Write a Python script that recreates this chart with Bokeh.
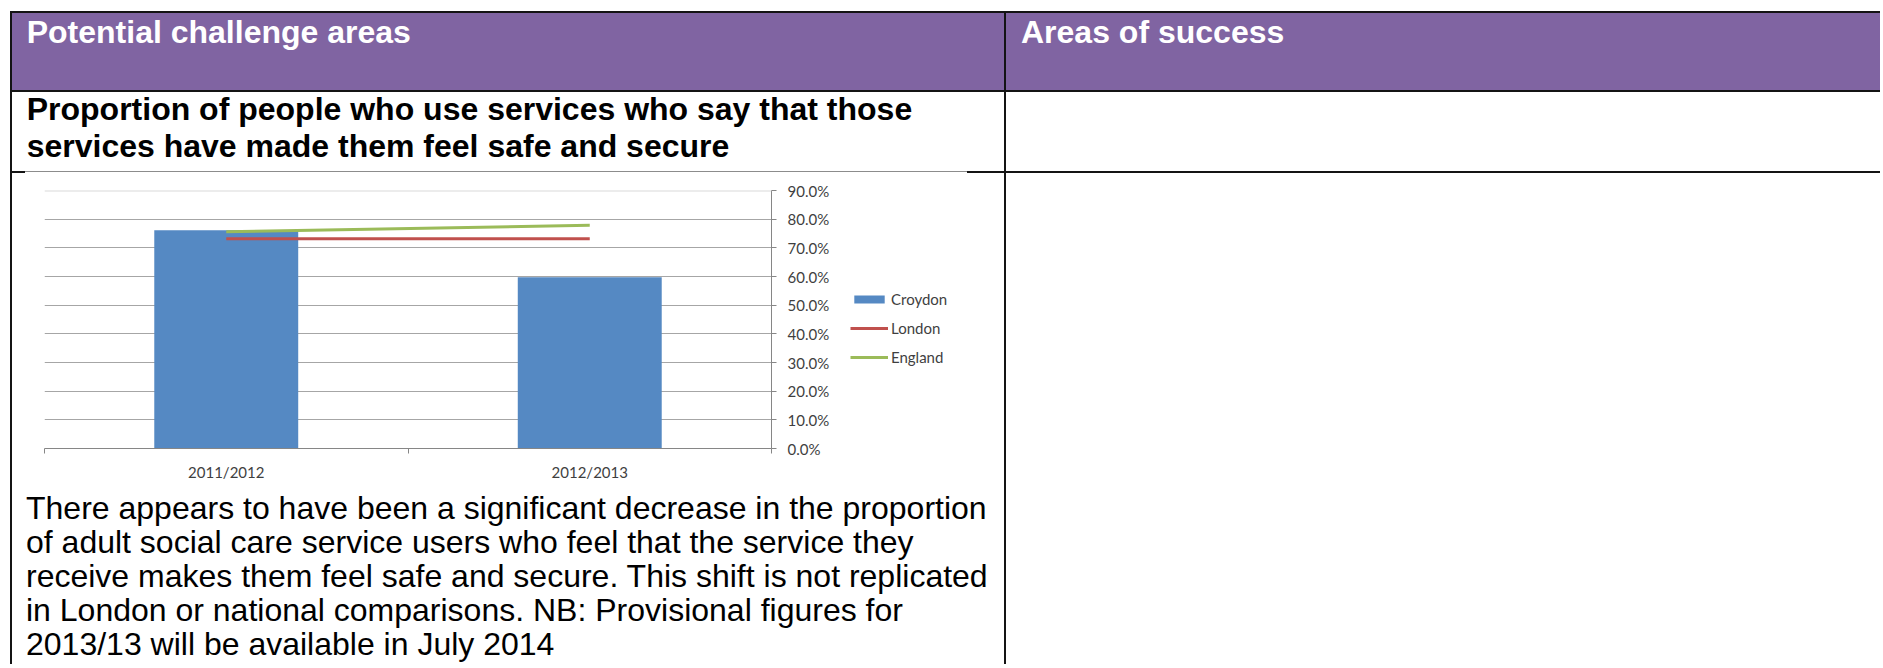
from bokeh.plotting import figure
from bokeh.layouts import row, column
from bokeh.models import (Range1d, FixedTicker, NumeralTickFormatter, Span,
                          Legend, LegendItem, Div)
from bokeh.embed import file_html
from bokeh.resources import INLINE

# ---------------- data ----------------
categories = ["2011/2012", "2012/2013"]
croydon = [0.761, 0.597]
london = [0.732, 0.732]
england = [0.756, 0.779]
series_names = ["Croydon", "London", "England"]
y_ticks = [0.0, 0.1, 0.2, 0.3, 0.4, 0.5, 0.6, 0.7, 0.8, 0.9]

header_left = "Potential challenge areas"
header_right = "Areas of success"
subtitle_lines = ["Proportion of people who use services who say that those",
                  "services have made them feel safe and secure"]
paragraph_lines = ["There appears to have been a significant decrease in the proportion",
                   "of adult social care service users who feel that the service they",
                   "receive makes them feel safe and secure. This shift is not replicated",
                   "in London or national comparisons. NB: Provisional figures for",
                   "2013/13 will be available in July 2014"]

# ---------------- layout constants (page pixels) ----------------
W, H = 1880, 664
TOP_H = 173
BAND_H = 310
PARA_H = H - TOP_H - BAND_H
STRIP_W = 13
CHART_W = 827
LEG_W = 163
LEFT_W = STRIP_W + CHART_W + LEG_W      # 1003

PURPLE = "#8064A2"
BORDER = "#141414"
BAR = "#5589C3"
RED = "#C0504D"
GREEN = "#9BBB59"
AXIS = "#868686"
LBL = "#3F3F3F"
FONT = "'Liberation Sans', Arial, sans-serif"
FS = 32
ASC = 27.1   # baseline offset for 32px Liberation Sans with line-height 32px


def rect(l, t, w, h, color):
    return (f'<div style="position:absolute;left:{l}px;top:{t}px;width:{w}px;'
            f'height:{h}px;background:{color};"></div>')


def text(x, baseline, s, bold=False, color="#000000"):
    weight = "bold" if bold else "normal"
    return (f'<div style="position:absolute;left:{x}px;top:{baseline - ASC}px;'
            f'font-family:{FONT};font-size:{FS}px;font-weight:{weight};'
            f'line-height:{FS}px;color:{color};white-space:nowrap;">{s}</div>')


def panel(w, h, parts):
    html = (f'<div style="position:relative;width:{w}px;height:{h}px;'
            f'overflow:hidden;margin:0;padding:0;background:#FFFFFF;">'
            + "".join(parts) + '</div>')
    return Div(text=html, width=w, height=h, margin=0,
               styles={"overflow": "hidden"})


# ---------------- header + subtitle rows ----------------
top_parts = [
    rect(12, 12.5, W - 12, 77, PURPLE),
    rect(9.5, 10.5, W - 9.5, 2, BORDER),
    rect(9.5, 10.5, 2.5, TOP_H - 10.5, BORDER),
    rect(9.5, 89.5, W - 9.5, 2, BORDER),
    rect(1003.5, 10.5, 2.5, TOP_H - 10.5, BORDER),
    rect(9.5, 170.7, 15.5, 2, BORDER),
    rect(25, 171, 942, 1, "#8C8C8C"),
    rect(967, 170.7, W - 967, 2, BORDER),
    text(26.7, 42.7, header_left, bold=True, color="#FFFFFF"),
    text(1021, 42.7, header_right, bold=True, color="#FFFFFF"),
]
for i, s in enumerate(subtitle_lines):
    top_parts.append(text(26.7, 120 + 36.7 * i, s, bold=True))
top_div = panel(W, TOP_H, top_parts)

strip_div = panel(STRIP_W, BAND_H, [rect(9.5, 0, 2.5, BAND_H, BORDER)])

# ---------------- chart ----------------
xpos = [i + 0.5 for i in range(len(categories))]
FRAME_TOP, FRAME_BOTTOM = 17, 32
p = figure(width=CHART_W, height=BAND_H, x_range=Range1d(0, len(categories)),
           y_range=Range1d(y_ticks[0], y_ticks[-1]), y_axis_location="right",
           output_backend="svg", toolbar_location=None,
           min_border_left=31, min_border_right=69,
           min_border_top=FRAME_TOP, min_border_bottom=FRAME_BOTTOM,
           outline_line_color=None, background_fill_color="white",
           border_fill_color="white", margin=0)

p.xgrid.visible = False
p.ygrid.ticker = FixedTicker(ticks=y_ticks[1:-1])
p.ygrid.grid_line_color = "#A6A6A6"
p.ygrid.grid_line_width = 1
p.add_layout(Span(location=y_ticks[-1], dimension="width",
                  line_color="#D9D9D9", line_width=2))

bars = p.vbar(x=xpos, top=croydon, width=0.396, fill_color=BAR, line_color=None)
lon = p.line(x=xpos, y=london, line_color=RED, line_width=3)
eng = p.line(x=xpos, y=england, line_color=GREEN, line_width=3)

ax = p.xaxis[0]
ax.ticker = FixedTicker(ticks=xpos,
                        minor_ticks=[float(i) for i in range(len(categories) + 1)])
ax.major_label_overrides = {x: c for x, c in zip(xpos, categories)}
ax.major_tick_line_color = None
ax.major_tick_out = 0
ax.major_tick_in = 0
ax.minor_tick_in = 0
ax.minor_tick_out = 5
ax.minor_tick_line_color = AXIS
ax.axis_line_color = AXIS
ax.major_label_standoff = 9
ax.major_label_text_font = "Lato"
ax.major_label_text_font_size = "15px"
ax.major_label_text_color = LBL

ay = p.yaxis[0]
ay.ticker = FixedTicker(ticks=y_ticks)
ay.formatter = NumeralTickFormatter(format="0.0%")
ay.axis_line_color = AXIS
ay.major_tick_line_color = AXIS
ay.major_tick_out = 5
ay.major_tick_in = 0
ay.minor_tick_line_color = None
ay.major_label_standoff = 11
ay.major_label_text_font = "Lato"
ay.major_label_text_font_size = "15px"
ay.major_label_text_color = LBL

# ---------------- legend (beside the chart, same frame rows) ----------------
# The legend panel re-uses the series with the same styles; its ranges keep
# the marks themselves out of view so only the legend keys show.
lg = figure(width=LEG_W, height=BAND_H, x_range=Range1d(-3, -2),
            y_range=Range1d(-3, -2),
            x_axis_type=None, y_axis_type=None, output_backend="svg",
            toolbar_location=None, min_border_left=0, min_border_right=0,
            min_border_top=FRAME_TOP, min_border_bottom=FRAME_BOTTOM,
            outline_line_color=None, background_fill_color="white",
            border_fill_color="white", margin=0)
lg.grid.visible = False
k_bar = lg.vbar(x=xpos, top=croydon, width=0.396, fill_color=BAR, line_color=None)
k_lon = lg.line(x=xpos, y=london, line_color=RED, line_width=3)
k_eng = lg.line(x=xpos, y=england, line_color=GREEN, line_width=3)
legend = Legend(items=[LegendItem(label=series_names[0], renderers=[k_bar]),
                       LegendItem(label=series_names[1], renderers=[k_lon]),
                       LegendItem(label=series_names[2], renderers=[k_eng])],
                location=(10, 81), border_line_color=None,
                background_fill_alpha=0, padding=0, margin=0, spacing=9,
                glyph_width=38, glyph_height=10, label_height=20,
                label_standoff=3, label_text_font="Lato",
                label_text_font_size="15px", label_text_color=LBL)
lg.add_layout(legend)

# ---------------- paragraph cell ----------------
para_parts = [rect(9.5, 0, 2.5, PARA_H, BORDER)]
base0 = 519 - (TOP_H + BAND_H)
for i, s in enumerate(paragraph_lines):
    para_parts.append(text(26, base0 + 34 * i, s))
para_div = panel(LEFT_W, PARA_H, para_parts)

# ---------------- right (empty) cell with the column divider ----------------
right_div = panel(W - LEFT_W, BAND_H + PARA_H,
                  [rect(0.5, 0, 2.5, BAND_H + PARA_H, BORDER)])

layout = column(top_div,
                row(column(row(strip_div, p, lg, spacing=0), para_div, spacing=0),
                    right_div, spacing=0),
                spacing=0)

open("out.html", "w").write(file_html(layout, INLINE))
